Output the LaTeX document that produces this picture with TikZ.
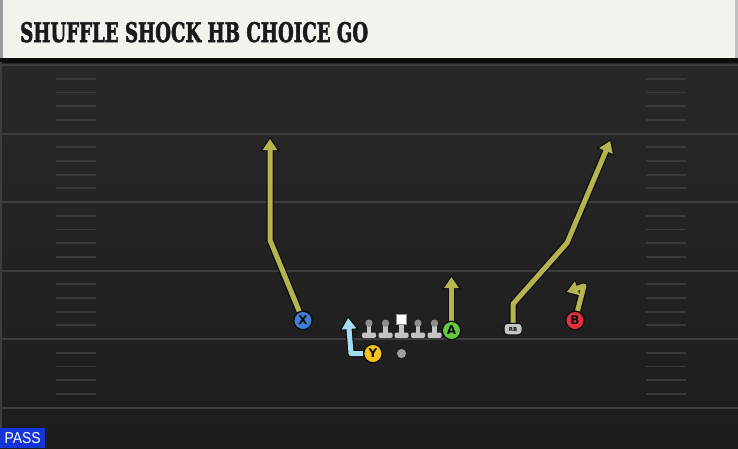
\documentclass[tikz,border=0pt]{standalone}
\usepackage{fontspec}
\usetikzlibrary{arrows.meta,calc}
\newfontfamily\titlefont{DejaVu Serif}[FakeBold=2.5]
\newfontfamily\labelfont{DejaVu Sans}
\newfontfamily\passfont{Liberation Sans}
\definecolor{hdr}{HTML}{F4F2EC}
\definecolor{hdrstrip}{HTML}{9C9C9C}
\definecolor{fieldtop}{HTML}{282828}
\definecolor{fieldbot}{HTML}{1D1D1D}
\definecolor{yardline}{HTML}{3D3D3D}
\definecolor{hashc}{HTML}{3A3A3A}
\definecolor{routec}{HTML}{B6B44F}
\definecolor{routey}{HTML}{A3DBF0}
\definecolor{xblue}{HTML}{3F7ED8}
\definecolor{yyel}{HTML}{F3C21B}
\definecolor{agreen}{HTML}{62C93F}
\definecolor{bred}{HTML}{E2303C}
\definecolor{passblue}{HTML}{1436D9}
\definecolor{olgray}{HTML}{C4C4C4}
\definecolor{olhead}{HTML}{8E8E8E}
\definecolor{outl}{HTML}{0E0E0E}
\definecolor{titletext}{HTML}{1A1A1A}
\pgfdeclarelayer{field}
\pgfdeclarelayer{routes}
\pgfsetlayers{field,routes,main}
\newcommand\routepath[2]{%
  \draw[line width=7.5pt, draw=outl, line join=round, -{Triangle[width=18pt,length=14pt]}] #2;
  \draw[line width=5pt, draw=#1, line join=round, shorten >=2pt, -{Triangle[width=14pt,length=11pt]}] #2;}
\tikzset{
  player/.style={circle, draw=outl, line width=1.3pt, minimum size=18.5pt, inner sep=0pt,
    font=\labelfont\bfseries\fontsize{12}{12}\selectfont, text=outl},
  lineman/.style={minimum width=15, minimum height=30, inner sep=0pt, outer sep=0pt,
    path picture={\begin{scope}[shift={(path picture bounding box.center)}]
      \fill[olgray] (-2.4,-4) rectangle (2.4,4.5);
      \fill[olgray, rounded corners=1.2pt] (-7,3.6) rectangle (7,8.8);
      \fill[olhead] (0,-5.8) circle (3.7);
    \end{scope}}},
  centerman/.style={minimum width=15, minimum height=30, inner sep=0pt, outer sep=0pt,
    path picture={\begin{scope}[shift={(path picture bounding box.center)}]
      \fill[olgray] (-2.4,-6) rectangle (2.4,4.5);
      \fill[olgray, rounded corners=1.2pt] (-7,3.6) rectangle (7,8.8);
      \filldraw[fill=white, draw=olhead, line width=0.6pt] (-4.8,-14.8) rectangle (4.8,-5.2);
    \end{scope}}},
  yardln/.style={draw=yardline, line width=2pt},
  hashln/.style={draw=hashc, line width=1.8pt}
}
\begin{document}
\begin{tikzpicture}[x=1pt,y=-1pt]
\useasboundingbox (0,0) rectangle (738,448);
\begin{pgfonlayer}{field}
  \shade[top color=fieldtop, bottom color=fieldbot] (0,58) rectangle (738,448);
  \fill[outl] (0,58) rectangle (738,62.5);
  \fill[yardline] (0,62) rectangle (2,448);
  \foreach \yy in {65,133.5,202,270.5,339,407.5}
    \draw[yardln] (0,\yy) -- (738,\yy);
  \foreach \k in {0,...,4}
    \foreach \j in {1,...,4}{
      \pgfmathsetmacro\hy{65+68.5*\k+13.7*\j}
      \draw[hashln] (56,\hy) -- (96,\hy);
      \draw[hashln] (646,\hy) -- (686,\hy);
    }
  \fill[hdr] (0,0) rectangle (735,58);
  \fill[hdrstrip] (0,0) rectangle (3,58);
  \fill[black!25] (735,0) rectangle (738,58);
\end{pgfonlayer}
\node[anchor=base west, inner sep=0pt, text=titletext] (title) at (20,42)
  {\resizebox{348pt}{20pt}{\titlefont\bfseries SHUFFLE SHOCK HB CHOICE GO}};
\node[fill=passblue, anchor=north west, minimum width=45pt, minimum height=20pt, inner sep=0pt,
  text=white] (pass) at (0,428) {\resizebox{36pt}{11pt}{\passfont PASS}};
% players
\node[player, fill=xblue] (X) at (303,320.5) {X};
\node[player, fill=yyel] (Y) at (373,353.5) {Y};
\node[player, fill=agreen] (A) at (451.5,330.5) {A};
\node[player, fill=bred] (B) at (575,320.5) {B};
\node[draw=outl, line width=1pt, fill=olgray, rounded corners=3.5pt, minimum width=18pt,
  minimum height=11.5pt, inner sep=0pt, font=\labelfont\bfseries\fontsize{5.5}{5.5}\selectfont,
  text=outl] (RB) at (513,329) {RB};
\node[circle, fill=olhead!85, minimum size=9pt, inner sep=0pt] (QB) at (401.5,353.5) {};
\node[lineman] (LT) at (369,329) {};
\node[lineman] (LG) at (385.5,329) {};
\node[centerman] (C) at (401.5,329) {};
\node[lineman] (RG) at (418,329) {};
\node[lineman] (RT) at (434.5,329) {};
% route points
\coordinate (x1) at (270,240);
\coordinate (xtip) at (270,137);
\coordinate (atip) at (451.5,275);
\coordinate (rb1) at (513,304);
\coordinate (rb2) at (567,243);
\coordinate (rbtip) at (611,139);
\coordinate (b1) at (584,286);
\coordinate (btip) at (565,292.5);
\coordinate (y1) at (351,353.5);
\coordinate (ytip) at (348,316);
\begin{pgfonlayer}{routes}
  \routepath{routec}{(X) -- (x1) -- (xtip)}
  \routepath{routec}{(A) -- (atip)}
  \routepath{routec}{(RB) -- (rb1) -- (rb2) -- (rbtip)}
  \routepath{routec}{(B) -- (b1) -- (btip)}
  \routepath{routey}{(Y) -- (y1) -- (ytip)}
\end{pgfonlayer}
\end{tikzpicture}
\end{document}
